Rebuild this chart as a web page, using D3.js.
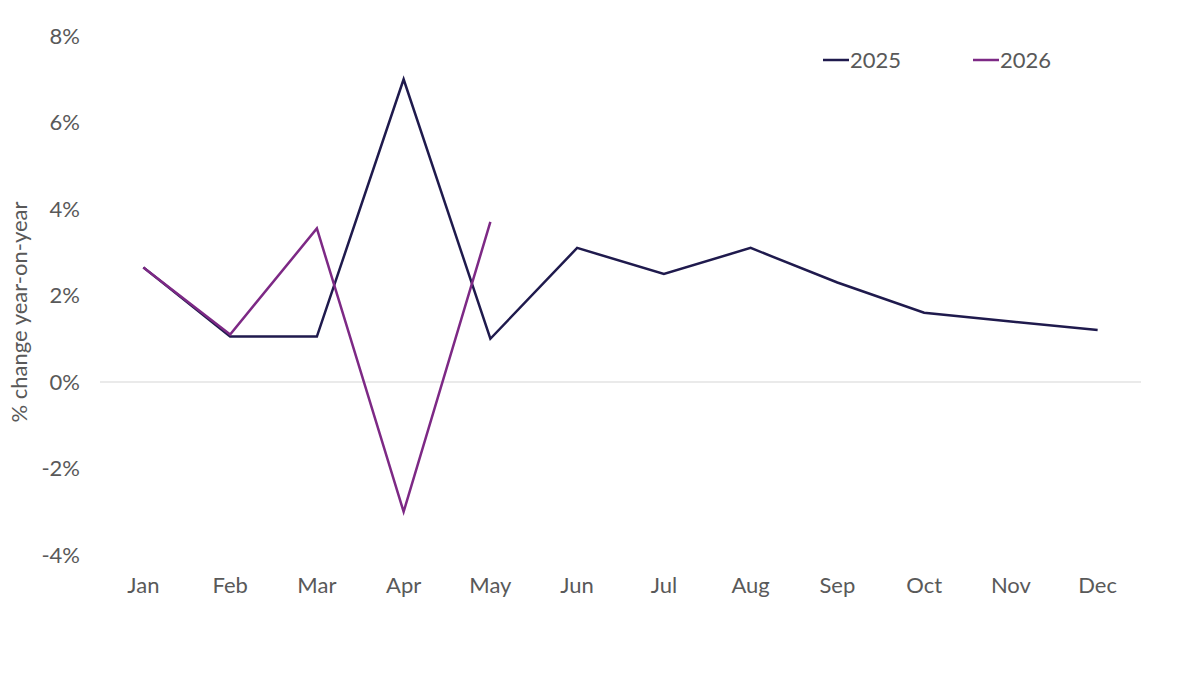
<!DOCTYPE html>
<html>
<head>
<meta charset="utf-8">
<script src="https://cdn.jsdelivr.net/npm/d3@7"></script>
<style>
  body { margin: 0; background: #fff; }
  svg text { font-family: Lato, "Open Sans", sans-serif; fill: #595959; }
</style>
</head>
<body>
<div id="chart"></div>
<script>
// chart data
var months = ['Jan', 'Feb', 'Mar', 'Apr', 'May', 'Jun', 'Jul', 'Aug', 'Sep', 'Oct', 'Nov', 'Dec'];
var values2025 = [2.65, 1.05, 1.05, 7.0, 1.0, 3.1, 2.5, 3.1, 2.3, 1.6, 1.4, 1.2];
var values2026 = [2.65, 1.1, 3.55, -3.0, 3.7];
var yTicks = [-4, -2, 0, 2, 4, 6, 8];
var seriesNames = ['2025', '2026'];
var seriesColors = ['#1f1a4d', '#7d2985'];

var svgWidth = 1200;
var svgHeight = 675;
var margin = { top: 36, right: 59, bottom: 120, left: 100 };
var width = svgWidth - margin.left - margin.right;
var height = svgHeight - margin.top - margin.bottom;

var svg = d3.select('#chart')
  .append('svg')
  .attr('width', svgWidth)
  .attr('height', svgHeight);

var g = svg.append('g')
  .attr('transform', `translate(${margin.left}, ${margin.top})`);

// scales
var xScale = d3.scaleBand()
  .domain(months)
  .range([0, width]);
var yScale = d3.scaleLinear()
  .domain([-4, 8])
  .range([519, 0]);

// zero line
g.append('line')
  .attr('x1', 0)
  .attr('x2', width)
  .attr('y1', yScale(0))
  .attr('y2', yScale(0))
  .attr('stroke', '#e3e3e3')
  .attr('stroke-width', 1.5);

// y axis
var yAxis = g.append('g')
  .call(d3.axisLeft(yScale).tickValues(yTicks).tickFormat(d => d + '%').tickSize(0).tickPadding(20));
yAxis.select('.domain').remove();
yAxis.selectAll('text').style('font-size', '22px');

// x axis
var xAxis = g.append('g')
  .attr('transform', `translate(0, ${yScale(-4)})`)
  .call(d3.axisBottom(xScale).tickSize(0).tickPadding(22));
xAxis.select('.domain').remove();
xAxis.selectAll('text').style('font-size', '22px');

// y axis title
svg.append('text')
  .attr('transform', 'translate(27, 312) rotate(-90)')
  .attr('text-anchor', 'middle')
  .style('font-size', '22px')
  .text('% change year-on-year');

// lines
var line = d3.line()
  .x((d, i) => xScale(months[i]) + xScale.bandwidth() / 2)
  .y(d => yScale(d));

[values2025, values2026].forEach((vals, i) => {
  g.append('path')
    .datum(vals)
    .attr('fill', 'none')
    .attr('stroke', seriesColors[i])
    .attr('stroke-width', 2.5)
    .attr('stroke-linejoin', 'miter')
    .attr('d', line);
});

// legend
var legendX = [823, 973];
seriesNames.forEach((name, i) => {
  svg.append('line')
    .attr('x1', legendX[i])
    .attr('x2', legendX[i] + 26)
    .attr('y1', 60)
    .attr('y2', 60)
    .attr('stroke', seriesColors[i])
    .attr('stroke-width', 2.5);
  svg.append('text')
    .attr('x', legendX[i] + 27)
    .attr('y', 68)
    .style('font-size', '22px')
    .text(name);
});
</script>
</body>
</html>
